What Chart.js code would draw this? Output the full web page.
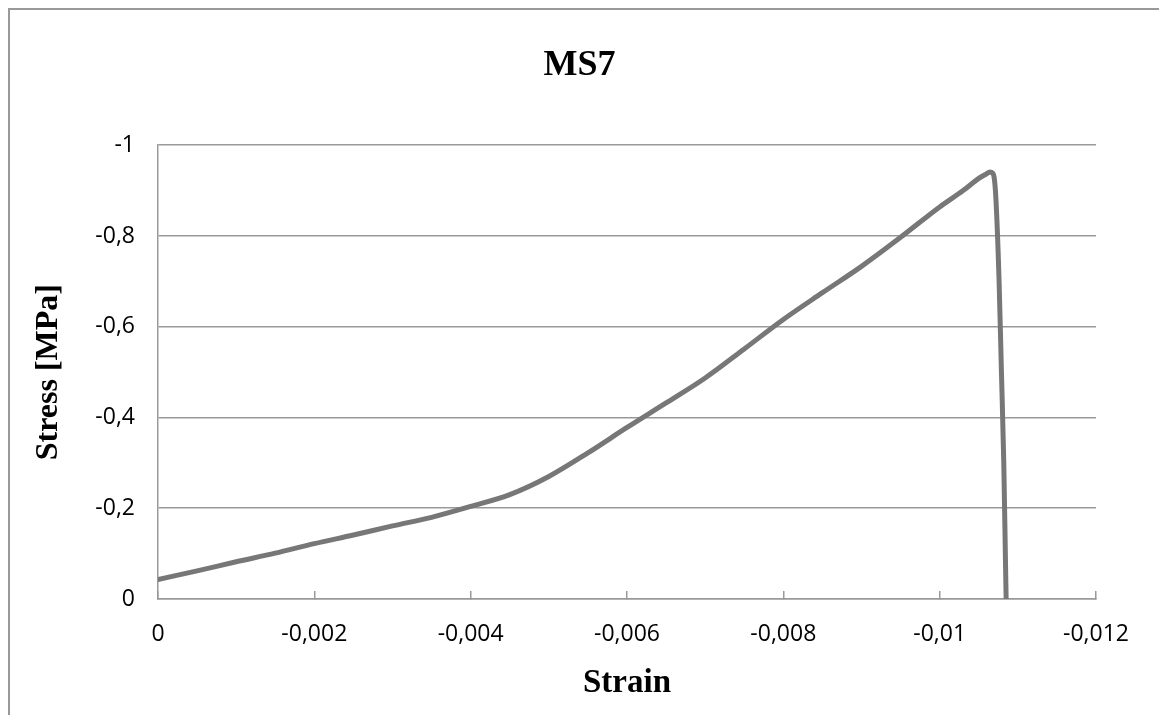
<!DOCTYPE html>
<html>
<head>
<meta charset="utf-8">
<script src="https://cdn.jsdelivr.net/npm/chart.js@4.4.1/dist/chart.umd.min.js"></script>
<style>
  html, body { margin: 0; padding: 0; background: #fff; }
  #wrap { width: 1159px; height: 715px; position: relative; }
</style>
</head>
<body>
<div id="wrap"><canvas id="myChart" width="1159" height="715"></canvas></div>
<script>
// MS7 - strain / stress
const strain = [0, -0.0005, -0.001, -0.0015, -0.002, -0.0025, -0.003, -0.0035, -0.004, -0.0045,
  -0.005, -0.0055, -0.006, -0.0065, -0.007, -0.0075, -0.008, -0.0085, -0.009, -0.0095,
  -0.01, -0.0103, -0.0105, -0.0106, -0.01064, -0.01068, -0.0107, -0.01072, -0.01076, -0.01079, -0.01082, -0.01084, -0.01085];
const stress = [-0.043, -0.062, -0.082, -0.101, -0.122, -0.141, -0.161, -0.180, -0.204, -0.230,
  -0.270, -0.322, -0.378, -0.432, -0.487, -0.551, -0.616, -0.675, -0.733, -0.797,
  -0.864, -0.900, -0.927, -0.937, -0.941, -0.938, -0.925, -0.880, -0.700, -0.500, -0.300, -0.100, 0];

const titleText = 'MS7';
const xTitle = 'Strain';
const yTitle = 'Stress [MPa]';

const GREY = '#999999';
const fmt = v => {
  const n = Number(Number(v).toFixed(4));
  return n === 0 ? '0' : String(n).replace('.', ',');
};

// cropped outer frame of the chart (left and top edges only)
const framePlugin = {
  id: 'frame',
  beforeDraw(chart) {
    const ctx = chart.ctx;
    ctx.save();
    ctx.strokeStyle = GREY;
    ctx.lineWidth = 2;
    ctx.beginPath();
    ctx.moveTo(9, 715);
    ctx.lineTo(9, 9);
    ctx.lineTo(1159, 9);
    ctx.stroke();
    ctx.restore();
  }
};

const setup = () => {
  const ctxt = document.getElementById('myChart').getContext('2d');

  new Chart(ctxt, {
    type: 'scatter',
    data: {
      datasets: [{
        data: strain.map((x, i) => ({ x: x, y: stress[i] })),
        showLine: true,
        borderColor: '#777777',
        borderWidth: 5,
        borderJoinStyle: 'round',
        borderCapStyle: 'round',
        pointRadius: 0,
        cubicInterpolationMode: 'monotone'
      }]
    },
    options: {
      responsive: false,
      animation: false,
      layout: { padding: 0 },
      plugins: {
        legend: { display: false },
        tooltip: { enabled: false },
        title: {
          display: true,
          text: titleText,
          color: '#000',
          font: { family: 'Liberation Serif', size: 36, weight: 'bold' },
          padding: { top: 44, bottom: 58 }
        }
      },
      scales: {
        x: {
          type: 'linear',
          reverse: true,
          min: -0.012,
          max: 0,
          afterFit: s => { s.height = 116; },
          ticks: {
            stepSize: 0.002,
            padding: 30,
            color: '#000',
            font: { family: 'Open Sans', size: 23 },
            callback: fmt
          },
          grid: { drawOnChartArea: false, drawTicks: true, tickLength: -8, color: GREY, lineWidth: 1.5 },
          border: { display: true, color: GREY, width: 1.5 },
          title: {
            display: true,
            text: xTitle,
            color: '#000',
            font: { family: 'Liberation Serif', size: 33, weight: 'bold' },
            padding: { top: 0, bottom: 12 }
          }
        },
        y: {
          type: 'linear',
          reverse: true,
          min: -1,
          max: 0,
          afterFit: s => { s.width = 158; },
          ticks: {
            stepSize: 0.2,
            padding: 23,
            color: '#000',
            font: { family: 'Open Sans', size: 23 },
            callback: fmt
          },
          grid: { drawTicks: false, color: GREY, lineWidth: 1.5 },
          border: { display: true, color: GREY, width: 1.5 },
          title: {
            display: true,
            text: yTitle,
            color: '#000',
            font: { family: 'Liberation Serif', size: 32, weight: 'bold' },
            padding: { top: 30, bottom: 0 }
          }
        },
        // empty right margin, keeps the title centred on the whole chart
        yRight: {
          type: 'linear',
          position: 'right',
          display: true,
          afterFit: s => { s.width = 54; },
          ticks: { display: false },
          grid: { display: false },
          border: { display: false }
        }
      }
    },
    plugins: [framePlugin]
  });
}

window.addEventListener('DOMContentLoaded', setup);
</script>
</body>
</html>
